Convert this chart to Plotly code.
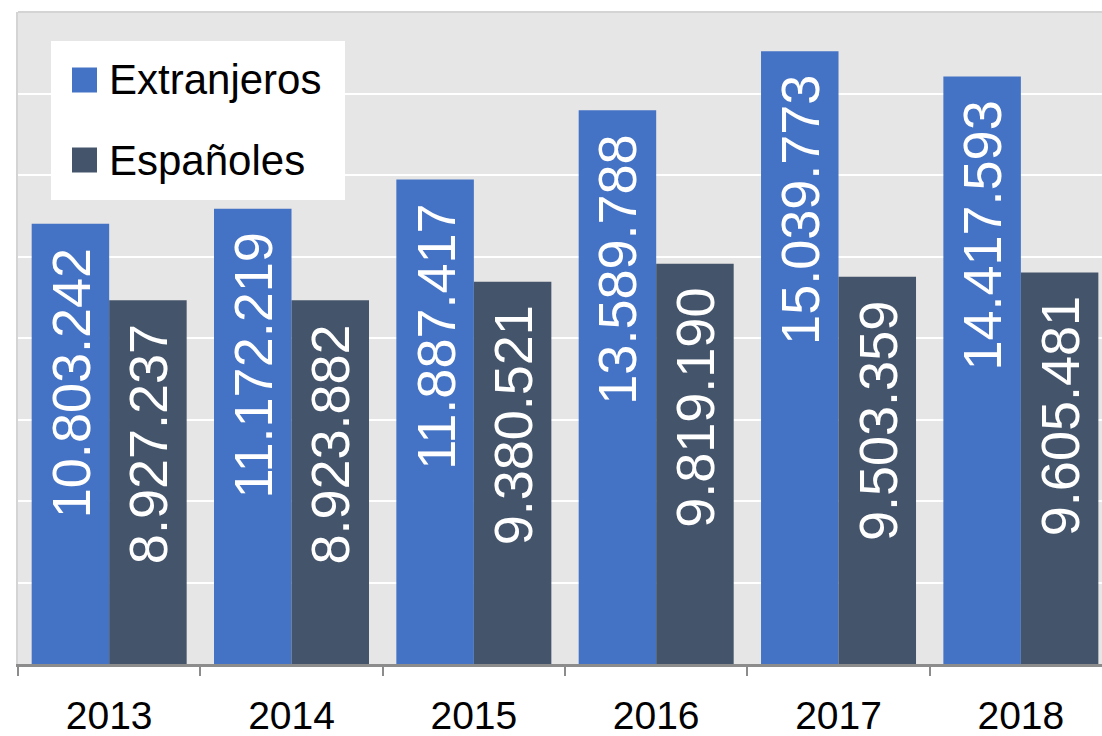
import plotly.graph_objects as go

years = ["2013", "2014", "2015", "2016", "2017", "2018"]
extranjeros = [10803242, 11172219, 11887417, 13589788, 15039773, 14417593]
espanoles = [8927237, 8923882, 9380521, 9819190, 9503359, 9605481]
series_names = ["Extranjeros", "Españoles"]
colors = ["#4472C4", "#44546A"]

W, H = 1102, 736
ML, MT, MB = 18, 12, 72
PW = W - ML
PH = H - MT - MB

def px_x(px):
    return (px - ML) / PW

def px_y(py):
    return (H - MB - py) / PH

def fmt(v):
    return f"{v:,}".replace(",", ".")

fig = go.Figure()
for name, vals, col in zip(series_names, [extranjeros, espanoles], colors):
    fig.add_trace(go.Bar(
        x=years, y=vals, name=name, marker=dict(color=col, line=dict(width=0)),
        showlegend=False, hoverinfo="x+y",
    ))

BARGAP = 0.15
half = (1 - BARGAP) / 4
annotations = []
for k, vals in enumerate([extranjeros, espanoles]):
    off = -half if k == 0 else half
    for i, v in enumerate(vals):
        annotations.append(dict(
            x=i + off, y=v, xref="x", yref="y", text=fmt(v), showarrow=False,
            textangle=-90, xanchor="center", yanchor="top", yshift=-22,
            font=dict(family="Liberation Sans, Arial, sans-serif", size=54, color="white"),
        ))

# manual legend
shapes = [
    dict(type="rect", xref="paper", yref="paper", x0=px_x(51), x1=px_x(345),
         y0=px_y(200), y1=px_y(41), fillcolor="white", line=dict(width=0), layer="above"),
    dict(type="line", xref="paper", yref="paper", x0=0, x1=1, y0=1, y1=1,
         line=dict(color="#d4d4d4", width=2)),
]
leg_rows = [80, 160]
for name, col, cy in zip(series_names, colors, leg_rows):
    shapes.append(dict(type="rect", xref="paper", yref="paper",
                       x0=px_x(72), x1=px_x(97), y0=px_y(cy + 12.5), y1=px_y(cy - 12.5),
                       fillcolor=col, line=dict(width=0), layer="above"))
    annotations.append(dict(
        x=px_x(107), y=px_y(cy), xref="paper", yref="paper", text=name,
        showarrow=False, xanchor="left", yanchor="middle",
        font=dict(family="Liberation Sans, Arial, sans-serif", size=42, color="black"),
    ))

fig.update_layout(
    width=W, height=H,
    margin=dict(l=ML, r=0, t=MT, b=MB, pad=0, autoexpand=False),
    paper_bgcolor="white", plot_bgcolor="#E6E6E6",
    barmode="group", bargap=BARGAP, bargroupgap=0,
    annotations=annotations, shapes=shapes,
    font=dict(family="Liberation Sans, Arial, sans-serif", color="black"),
)
fig.update_xaxes(
    type="category", range=[-0.5, 5.445], automargin=False,
    showline=True, linecolor="#8C8C8C", linewidth=3,
    ticks="outside", tickson="boundaries", ticklen=9, tickwidth=2, tickcolor="#8C8C8C",
    tickfont=dict(size=39, color="black"), ticklabelstandoff=15,
    showgrid=False, zeroline=False,
)
fig.update_yaxes(
    range=[0, 16000000], dtick=2000000, showticklabels=False, automargin=False,
    showgrid=True, gridcolor="white", gridwidth=2, zeroline=False,
    showline=True, linecolor="#d4d4d4", linewidth=2,
)

fig.write_html(
    "out.html",
    config={"displayModeBar": False},
    post_script="document.body.style.margin='0';document.body.style.overflow='hidden';",
)
